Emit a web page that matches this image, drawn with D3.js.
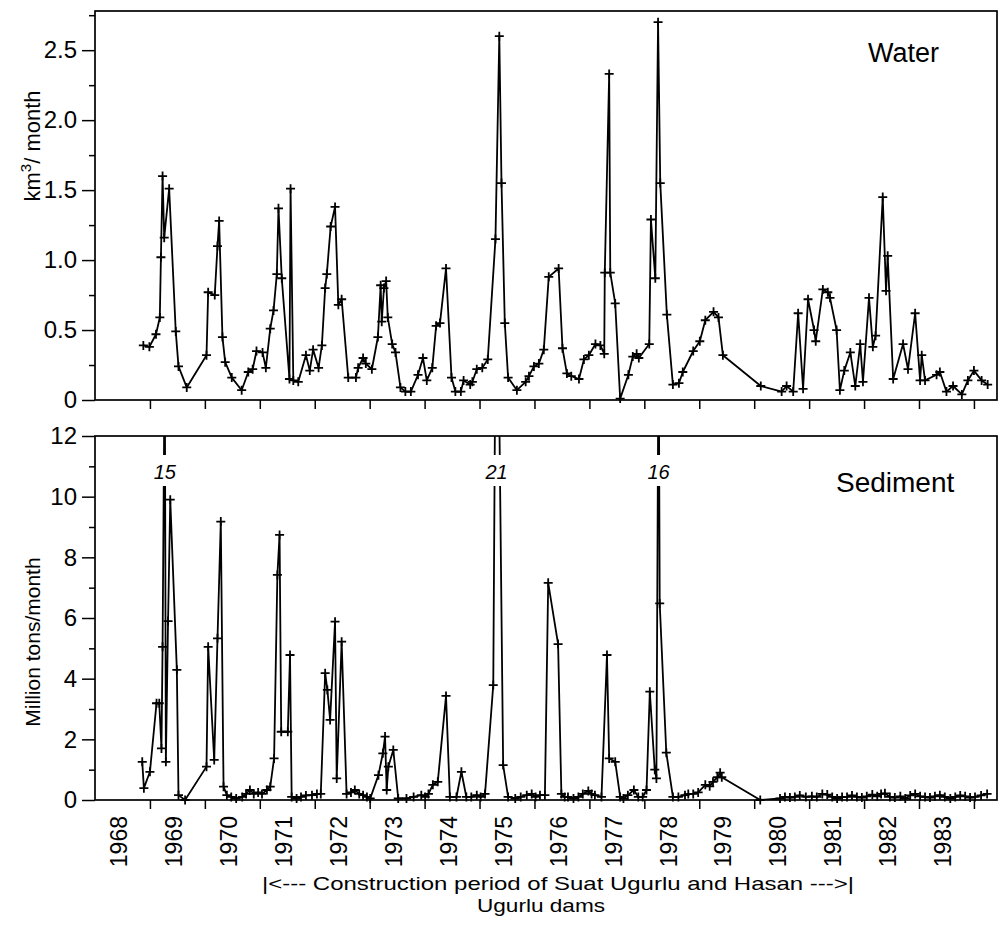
<!DOCTYPE html>
<meta charset="utf-8">
<style>
body { margin: 0; background: #fff; }
text { font-family: "Liberation Sans", Arial, sans-serif; fill: #000; }
.frame { fill: none; stroke: #000; stroke-width: 1.7; }
.axis path { display: none; }
.axis line { stroke: #000; stroke-width: 1.5; }
.series { fill: none; stroke: #000; stroke-width: 1.8; stroke-linejoin: round; }
.mark { fill: none; stroke: #000; stroke-width: 1.8; }
</style>
<body>
<script src="https://cdn.jsdelivr.net/npm/d3@7"></script>
<script>

// monthly water discharge, km3/month (decimal year, value)
var waterYear = [1968.88,1968.99,1969.11,1969.18,1969.20,1969.23,1969.26,1969.35,1969.47,1969.52,1969.67,
  1970.03,1970.06,1970.18,1970.23,1970.26,1970.32,1970.37,1970.49,1970.67,1970.79,1970.87,1970.94,
  1971.05,1971.11,1971.19,1971.25,1971.31,1971.34,1971.40,1971.54,1971.56,1971.61,1971.70,1971.84,1971.91,1971.97,
  1972.07,1972.13,1972.19,1972.22,1972.29,1972.37,1972.43,1972.49,1972.61,1972.75,1972.79,1972.88,1972.93,
  1973.04,1973.15,1973.20,1973.22,1973.26,1973.30,1973.33,1973.41,1973.47,1973.56,1973.65,1973.75,1973.88,1973.97,
  1974.04,1974.14,1974.21,1974.28,1974.39,1974.49,1974.56,1974.66,1974.71,1974.83,1974.87,1974.95,
  1975.05,1975.15,1975.29,1975.36,1975.40,1975.46,1975.52,1975.68,1975.84,1975.90,1975.99,
  1976.08,1976.17,1976.26,1976.44,1976.51,1976.59,1976.67,1976.81,1976.90,1976.99,
  1977.11,1977.20,1977.27,1977.28,1977.36,1977.38,1977.47,1977.56,1977.71,1977.79,1977.86,1977.90,
  1978.09,1978.12,1978.20,1978.25,1978.29,1978.41,1978.52,1978.63,1978.70,1978.89,
  1979.01,1979.11,1979.26,1979.35,1979.43,
  1980.12,1980.50,1980.59,1980.71,1980.80,1980.89,1980.98,
  1981.09,1981.12,1981.25,1981.34,1981.38,1981.50,1981.56,1981.64,1981.75,1981.84,1981.93,1981.98,
  1982.09,1982.16,1982.21,1982.34,1982.40,1982.43,1982.53,1982.71,1982.80,1982.93,
  1983.02,1983.05,1983.11,1983.32,1983.38,1983.50,1983.62,1983.78,1983.89,
  1984.00,1984.14,1984.25];
var waterValue = [0.39,0.38,0.47,0.59,1.02,1.60,1.16,1.51,0.49,0.24,0.09,
  0.32,0.77,0.75,1.10,1.28,0.45,0.27,0.16,0.07,0.20,0.22,0.35,
  0.34,0.23,0.51,0.64,0.90,1.37,0.87,0.15,1.51,0.14,0.13,0.32,0.21,0.36,
  0.23,0.39,0.80,0.90,1.24,1.38,0.68,0.72,0.16,0.16,0.23,0.30,0.26,
  0.22,0.45,0.82,0.56,0.80,0.85,0.59,0.40,0.34,0.09,0.06,0.06,0.18,0.30,
  0.14,0.23,0.53,0.55,0.94,0.16,0.06,0.06,0.14,0.11,0.13,0.22,
  0.23,0.29,1.15,2.60,1.55,0.55,0.16,0.07,0.13,0.17,0.24,
  0.26,0.36,0.88,0.94,0.37,0.19,0.17,0.15,0.29,0.32,
  0.40,0.39,0.33,0.91,2.33,0.91,0.69,0.01,0.18,0.31,0.33,0.30,
  0.40,1.29,0.87,2.70,1.55,0.61,0.11,0.12,0.20,0.35,
  0.42,0.57,0.63,0.59,0.32,
  0.10,0.06,0.10,0.06,0.62,0.08,0.72,
  0.50,0.42,0.79,0.77,0.73,0.50,0.07,0.21,0.34,0.10,0.40,0.13,
  0.73,0.38,0.46,1.45,0.78,1.03,0.15,0.40,0.22,0.62,
  0.14,0.32,0.14,0.18,0.20,0.06,0.10,0.04,0.14,
  0.21,0.14,0.11];

// monthly sediment load, million tons/month
var sedYear = [1968.86,1968.89,1969.00,1969.12,1969.17,1969.21,1969.23,1969.27,1969.29,1969.33,1969.37,1969.49,1969.52,1969.64,
  1970.03,1970.06,1970.17,1970.23,1970.29,1970.34,1970.40,1970.48,1970.57,1970.68,1970.75,1970.82,1970.89,1970.97,
  1971.04,1971.13,1971.19,1971.26,1971.32,1971.36,1971.39,1971.51,1971.55,1971.58,1971.67,1971.75,1971.84,1971.95,
  1972.04,1972.11,1972.19,1972.23,1972.28,1972.37,1972.40,1972.49,1972.58,1972.66,1972.73,1972.81,1972.88,1972.95,
  1973.01,1973.16,1973.24,1973.28,1973.31,1973.34,1973.43,1973.52,1973.67,1973.80,1973.94,
  1974.01,1974.07,1974.15,1974.24,1974.39,1974.46,1974.58,1974.67,1974.76,1974.85,1974.95,
  1975.02,1975.10,1975.25,1975.31,1975.43,1975.52,1975.65,1975.75,1975.86,1975.95,
  1976.02,1976.10,1976.19,1976.25,1976.43,1976.49,1976.55,1976.61,1976.71,1976.80,1976.88,1976.98,
  1977.04,1977.10,1977.22,1977.32,1977.36,1977.47,1977.56,1977.62,1977.70,1977.81,1977.89,1977.97,
  1978.04,1978.10,1978.19,1978.22,1978.26,1978.28,1978.40,1978.52,1978.62,1978.74,1978.80,1978.89,1978.98,
  1979.11,1979.19,1979.25,1979.33,1979.38,1979.41,
  1980.11,1980.47,1980.56,1980.65,1980.74,1980.83,1980.94,
  1981.05,1981.14,1981.24,1981.33,1981.42,1981.51,1981.60,1981.69,1981.78,1981.87,1981.96,
  1982.05,1982.15,1982.24,1982.31,1982.38,1982.47,1982.56,1982.66,1982.75,1982.84,1982.93,
  1983.02,1983.11,1983.20,1983.29,1983.38,1983.47,1983.57,1983.66,1983.75,1983.84,1983.93,
  1984.02,1984.13,1984.24];
var sedValue = [1.26,0.39,0.93,3.19,3.19,1.70,5.05,15,1.26,5.9,9.9,4.29,0.16,0.0,
  1.10,5.05,1.32,5.33,9.18,0.44,0.16,0.10,0.05,0.10,0.20,0.33,0.20,0.25,
  0.20,0.33,0.44,1.37,7.42,8.74,2.25,2.25,4.78,0.10,0.05,0.10,0.15,0.16,
  0.20,0.20,4.18,3.63,2.64,5.88,0.71,5.22,0.20,0.25,0.33,0.20,0.16,0.10,
  0.05,0.82,1.54,2.09,0.33,1.10,1.65,0.05,0.05,0.10,0.16,
  0.10,0.20,0.50,0.60,3.43,0.10,0.10,0.93,0.10,0.10,0.16,
  0.10,0.20,3.79,21,1.15,0.10,0.05,0.10,0.16,0.20,
  0.10,0.16,0.16,7.16,5.14,0.20,0.10,0.10,0.05,0.10,0.20,0.30,
  0.20,0.16,0.10,4.78,1.37,1.26,0.10,0.05,0.16,0.33,0.10,0.10,
  0.33,3.57,1.00,0.71,16,6.48,1.56,0.10,0.10,0.16,0.20,0.20,0.25,
  0.50,0.45,0.60,0.75,0.90,0.75,
  0.00,0.05,0.10,0.08,0.10,0.15,0.10,
  0.12,0.10,0.20,0.18,0.10,0.05,0.10,0.10,0.15,0.10,0.08,
  0.12,0.18,0.12,0.20,0.22,0.10,0.08,0.12,0.05,0.15,0.20,
  0.12,0.10,0.08,0.12,0.16,0.10,0.05,0.10,0.15,0.12,0.08,
  0.10,0.15,0.20];

var yearLabels = [1968,1969,1970,1971,1972,1973,1974,1975,1976,1977,1978,1979,1980,1981,1982,1983];
var yearTicks = [1969,1970,1971,1972,1973,1974,1975,1976,1977,1978,1979,1980,1981,1982,1983,1984];
var waterTicks = [0, 0.5, 1.0, 1.5, 2.0, 2.5];
var waterMinor = [0.25, 0.75, 1.25, 1.75, 2.25, 2.75];
var sedTicks = [0, 2, 4, 6, 8, 10, 12];
var sedMinor = [1, 3, 5, 7, 9, 11];

var W = 1002, H = 931;
var left = 95, right = 997;

var svg = d3.select("body").append("svg")
  .attr("width", W)
  .attr("height", H);

var x = d3.scaleLinear().domain([1968, 1984.42]).range([left, right]);

function drawPanel(id, years, values, top, bottom, maxV, major, minor, fmt) {
  var y = d3.scaleLinear().domain([0, maxV]).range([bottom, top]);
  var g = svg.append("g");

  g.append("clipPath").attr("id", "clip" + id)
    .append("rect")
    .attr("x", left).attr("y", top)
    .attr("width", right - left).attr("height", bottom - top);

  // ticks
  g.append("g").attr("class", "axis")
    .attr("transform", "translate(" + left + ",0)")
    .call(d3.axisLeft(y).tickValues(minor).tickSize(6).tickFormat(""));
  var ya = g.append("g").attr("class", "axis")
    .attr("transform", "translate(" + left + ",0)")
    .call(d3.axisLeft(y).tickValues(major).tickSize(13).tickPadding(5).tickFormat(fmt));
  ya.selectAll("text").style("font-size", "24px");

  g.append("g").attr("class", "axis")
    .attr("transform", "translate(0," + bottom + ")")
    .call(d3.axisBottom(x).tickValues(yearTicks).tickSize(9).tickFormat(""));

  var pts = years.map(function(d, i) { return [d, values[i]]; });
  var line = d3.line().x(function(d) { return x(d[0]); }).y(function(d) { return y(d[1]); });

  g.append("path")
    .attr("class", "series")
    .attr("clip-path", "url(#clip" + id + ")")
    .attr("d", line(pts));

  g.selectAll("path.mark")
    .data(pts.filter(function(d) { return d[1] <= maxV; }))
    .enter().append("path")
    .attr("class", "mark")
    .attr("transform", function(d) { return "translate(" + x(d[0]) + "," + y(d[1]) + ")"; })
    .attr("d", "M-4.5,0H4.5M0,-4.5V4.5");

  g.append("rect").attr("class", "frame")
    .attr("x", left).attr("y", top)
    .attr("width", right - left).attr("height", bottom - top);

  return { g: g, y: y, pts: pts };
}

var top = drawPanel("w", waterYear, waterValue, 11, 400, 2.78, waterTicks, waterMinor,
  function(d) { return d === 0 ? "0" : d3.format(".1f")(d); });
var bot = drawPanel("s", sedYear, sedValue, 436, 800, 12, sedTicks, sedMinor, d3.format("d"));

// off-scale peaks in the sediment panel: the line is broken where the value is written
bot.pts.filter(function(d) { return d[1] > 12; }).forEach(function(d) {
  var cx = x(d[0]);
  bot.g.append("rect")
    .attr("x", cx - 14).attr("y", 455)
    .attr("width", 28).attr("height", 31)
    .attr("fill", "#fff");
  bot.g.append("text")
    .attr("x", cx).attr("y", 479)
    .attr("text-anchor", "middle")
    .style("font-size", "20px")
    .style("font-style", "italic")
    .text(d[1]);
});

// panel titles
svg.append("text").attr("x", 868).attr("y", 62)
  .style("font-size", "27px").text("Water");
svg.append("text").attr("x", 836).attr("y", 492)
  .style("font-size", "28px").text("Sediment");

// y axis titles
var t1 = svg.append("text")
  .attr("transform", "translate(40,146) rotate(-90)")
  .attr("text-anchor", "middle")
  .style("font-size", "22px");
t1.append("tspan").text("km");
t1.append("tspan").attr("dy", -9).style("font-size", "15px").text("3");
t1.append("tspan").attr("dy", 9).text("/ month");

svg.append("text")
  .attr("transform", "translate(40,642) rotate(-90)")
  .attr("text-anchor", "middle")
  .style("font-size", "21px")
  .text("Million tons/month");

// year labels
svg.append("g").selectAll("text")
  .data(yearLabels)
  .enter().append("text")
  .attr("transform", function(d) { return "translate(" + (x(d + 0.44) + 8) + ",816) rotate(-90)"; })
  .attr("text-anchor", "end")
  .style("font-size", "23px")
  .text(function(d) { return d; });

// caption
svg.append("text")
  .attr("x", 558).attr("y", 890)
  .attr("text-anchor", "middle")
  .attr("textLength", 592)
  .attr("lengthAdjust", "spacingAndGlyphs")
  .style("font-size", "19px")
  .text("|<--- Construction period of Suat Ugurlu and Hasan  --->|");
svg.append("text")
  .attr("x", 541).attr("y", 912)
  .attr("text-anchor", "middle")
  .attr("textLength", 128)
  .attr("lengthAdjust", "spacingAndGlyphs")
  .style("font-size", "19px")
  .text("Ugurlu dams");

</script>
